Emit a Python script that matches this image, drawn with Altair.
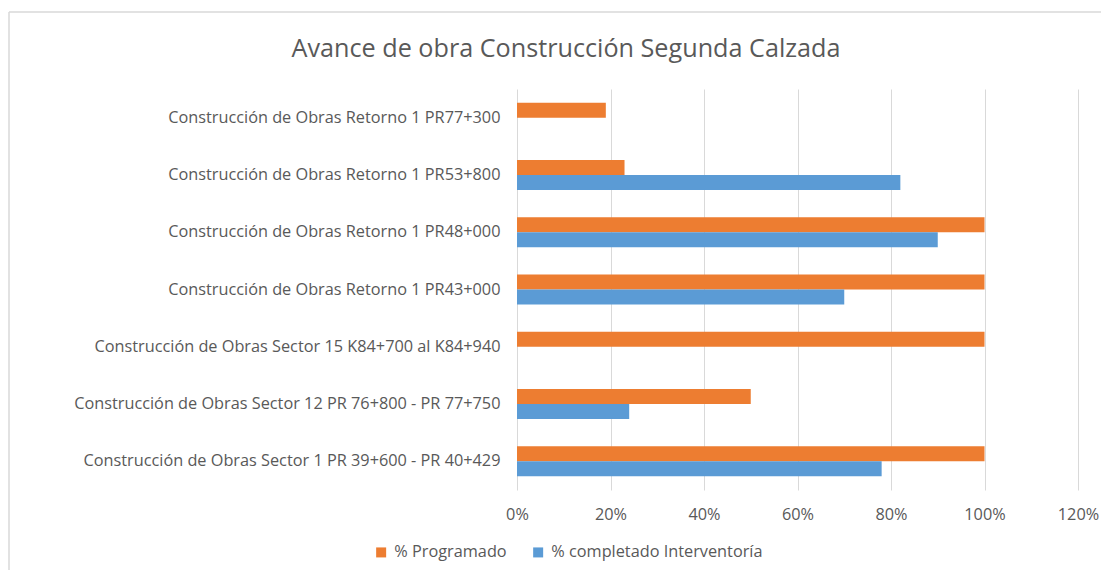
import altair as alt
import pandas as pd

categories = [
    "Construcción de Obras Retorno 1 PR77+300",
    "Construcción de Obras Retorno 1 PR53+800",
    "Construcción de Obras Retorno 1 PR48+000",
    "Construcción de Obras Retorno 1 PR43+000",
    "Construcción de Obras Sector 15 K84+700 al K84+940",
    "Construcción de Obras Sector 12 PR 76+800 - PR 77+750",
    "Construcción de Obras Sector 1 PR 39+600 - PR 40+429",
]
programado = [0.19, 0.23, 1.00, 1.00, 1.00, 0.50, 1.00]
completado = [0.00, 0.82, 0.90, 0.70, 0.00, 0.24, 0.78]
series = ["% Programado", "% completado Interventoría"]
colors = ["#ED7D31", "#5B9BD5"]

rows = []
for c, p, q in zip(categories, programado, completado):
    rows.append({"cat": c, "serie": series[0], "val": p})
    rows.append({"cat": c, "serie": series[1], "val": q})
df = pd.DataFrame(rows)

FONT = "Open Sans"
GREY = "#595959"
FS = 16.3

bars = alt.Chart(df).mark_bar().encode(
    y=alt.Y("cat:N", sort=categories, title=None,
            scale=alt.Scale(paddingInner=0.476, paddingOuter=0.238),
            axis=alt.Axis(labelFontSize=FS, labelColor=GREY, labelFont=FONT,
                          ticks=False, domain=False, labelPadding=17,
                          labelLimit=500, grid=False)),
    yOffset=alt.YOffset("serie:N", sort=series),
    x=alt.X("val:Q", title=None,
            scale=alt.Scale(domain=[0, 1.2], nice=False),
            axis=alt.Axis(format=".0%", values=[0, 0.2, 0.4, 0.6, 0.8, 1.0, 1.2],
                          labelFontSize=FS, labelColor=GREY, labelFont=FONT,
                          labelFlush=False,
                          ticks=False, domain=False, labelPadding=16,
                          grid=True, gridColor="#D9D9D9", gridWidth=1)),
    color=alt.Color("serie:N", sort=series,
                    scale=alt.Scale(domain=series, range=colors),
                    legend=alt.Legend(title=None, orient="none", direction="horizontal",
                                      legendX=-144, legendY=455,
                                      symbolType="square", symbolSize=100,
                                      symbolStrokeWidth=0, symbolOpacity=1,
                                      labelFontSize=FS, labelColor=GREY, labelFont=FONT,
                                      labelLimit=400,
                                      columnPadding=23, labelOffset=5)),
)

frame = pd.DataFrame({"a": [0]})
top_line = alt.Chart(frame).mark_rule(stroke="#D9D9D9", strokeWidth=1.5).encode(
    x=alt.value(-508), x2=alt.value(700), y=alt.value(-77),
)
left_line = alt.Chart(frame).mark_rule(stroke="#D9D9D9", strokeWidth=1.5).encode(
    x=alt.value(-508), y=alt.value(-77), y2=alt.value(560),
)

title = alt.Chart(pd.DataFrame({"t": ["Avance de obra Construcción Segunda Calzada"]})).mark_text(
    font=FONT, fontSize=25.2, color=GREY, align="center", baseline="alphabetic"
).encode(
    text="t:N",
    x=alt.value(49), y=alt.value(-32),
)

chart = alt.layer(top_line, left_line, bars, title).properties(
    width=561, height=401,
    autosize=alt.AutoSizeParams(type="none"),
    padding={"left": 509, "top": 81, "right": 23, "bottom": 80},
).configure_view(stroke=None)

chart.save("out.html", embed_options={"renderer": "svg", "actions": False})
